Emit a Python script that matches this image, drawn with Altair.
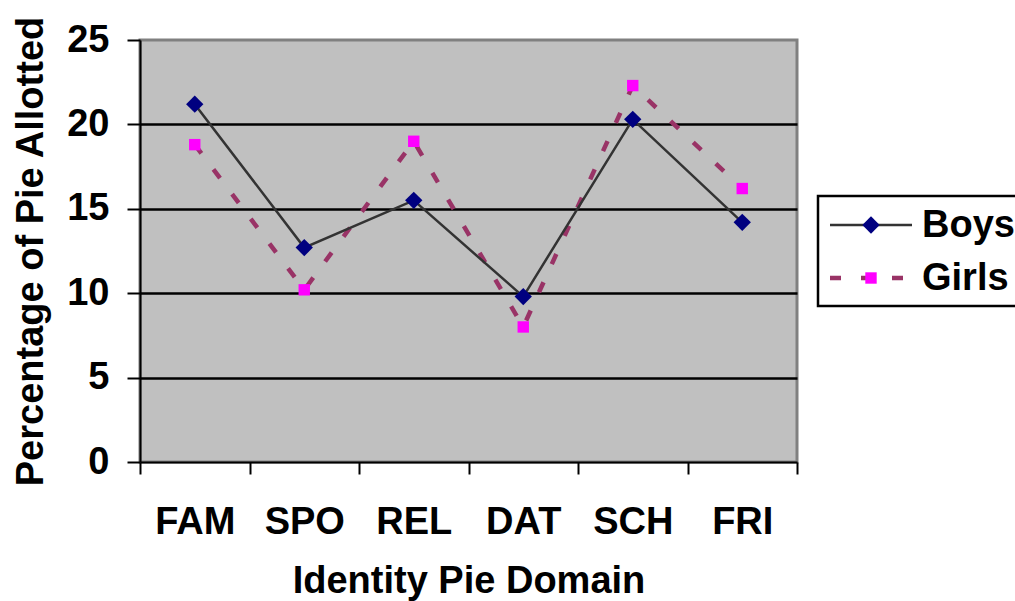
import altair as alt
import pandas as pd

# Identity pie: average share of the pie given to each domain
categories = ["FAM", "SPO", "REL", "DAT", "SCH", "FRI"]
series_names = ["Boys", "Girls"]
boys = [21.2, 12.7, 15.5, 9.8, 20.3, 14.2]
girls = [18.8, 10.2, 19.0, 8.0, 22.3, 16.2]
y_ticks = [0, 5, 10, 15, 20, 25]

rows = []
for name, vals in zip(series_names, [boys, girls]):
    for cat, v in zip(categories, vals):
        rows.append({"domain": cat, "series": name, "value": v})
df = pd.DataFrame(rows)

FONT = "Liberation Sans"
FS = 38
W, H = 657, 422

style = {
    "Boys": dict(color="#333333", width=2.5, dash=None, shape="diamond",
                 fill="#000080", size=300),
    "Girls": dict(color="#993366", width=4.5, dash=[11, 20], shape="square",
                  fill="#FF00FF", size=130),
}

x_enc = alt.X(
    "domain:N",
    sort=categories,
    scale=alt.Scale(type="band", paddingInner=0, paddingOuter=0),
    axis=alt.Axis(
        title="Identity Pie Domain",
        labelAngle=0,
        tickBand="extent",
        tickSize=12,
        tickWidth=2,
        tickColor="black",
        domainColor="black",
        domainWidth=2,
        grid=False,
        labelFont=FONT,
        labelFontSize=FS,
        labelFontWeight="bold",
        labelColor="black",
        labelBaseline="alphabetic",
        labelPadding=59,
        titleFont=FONT,
        titleFontSize=FS,
        titleFontWeight="bold",
        titleColor="black",
        titleBaseline="alphabetic",
        titleY=130,
    ),
)

y_enc = alt.Y(
    "value:Q",
    scale=alt.Scale(domain=[0, 25], nice=False),
    axis=alt.Axis(
        title="Percentage of Pie Allotted",
        values=y_ticks,
        tickSize=13,
        tickWidth=2,
        tickColor="black",
        domainColor="black",
        domainWidth=2,
        grid=True,
        gridColor="black",
        gridWidth=2.5,
        gridOpacity={"condition": {"test": "datum.value == 0 || datum.value == 25",
                                   "value": 0}, "value": 1},
        labelFont=FONT,
        labelFontSize=FS,
        labelFontWeight="bold",
        labelColor="black",
        labelPadding=18,
        titleFont=FONT,
        titleFontSize=FS,
        titleFontWeight="bold",
        titleColor="black",
        titleAngle=270,
        titleAlign="center",
        titleBaseline="alphabetic",
        titleX=-98,
        titleY=H / 2,
    ),
)

base = alt.Chart(df).encode(x=x_enc, y=y_enc)

layers = []
# connecting lines (girls first so the boys' line sits on top)
for name in ["Girls", "Boys"]:
    s = style[name]
    kw = dict(color=s["color"], strokeWidth=s["width"])
    if s["dash"]:
        kw["strokeDash"] = s["dash"]
    layers.append(base.transform_filter(alt.datum.series == name).mark_line(**kw))
# markers
for name in ["Girls", "Boys"]:
    s = style[name]
    layers.append(
        base.transform_filter(alt.datum.series == name).mark_point(
            shape=s["shape"], filled=True, fill=s["fill"], size=s["size"], opacity=1,
            strokeWidth=0,
        )
    )

# legend box and entries, placed to the right of the plot
legend_df = pd.DataFrame({"series": series_names})
layers.append(
    alt.Chart(legend_df.head(1)).mark_rect(
        fill="white", stroke="black", strokeWidth=2.5
    ).encode(x=alt.value(678), x2=alt.value(920), y=alt.value(156), y2=alt.value(266))
)
row_y = {"Boys": 185, "Girls": 238}
for name in series_names:
    s = style[name]
    one = pd.DataFrame({"series": [name]})
    kw = dict(color=s["color"], strokeWidth=s["width"])
    if s["dash"]:
        kw["strokeDash"] = s["dash"]
    layers.append(
        alt.Chart(one).mark_rule(**kw).encode(
            x=alt.value(690), x2=alt.value(772), y=alt.value(row_y[name])
        )
    )
    layers.append(
        alt.Chart(one).mark_point(
            shape=s["shape"], filled=True, fill=s["fill"], size=s["size"], opacity=1,
            strokeWidth=0,
        ).encode(x=alt.value(731), y=alt.value(row_y[name]))
    )
    layers.append(
        alt.Chart(one).mark_text(
            font=FONT, fontSize=FS, fontWeight="bold", color="black",
            align="left", baseline="middle",
        ).encode(x=alt.value(782), y=alt.value(row_y[name] + 1), text="series:N")
    )

chart = (
    alt.layer(*layers)
    .properties(
        width=W,
        height=H,
        autosize="none",
        padding={"left": 140, "top": 40, "right": 218, "bottom": 139},
        background="white",
    )
    .configure_view(fill="#C0C0C0", stroke="#808080", strokeWidth=3)
)

chart.save("out.html", embed_options={"renderer": "svg", "actions": False})
